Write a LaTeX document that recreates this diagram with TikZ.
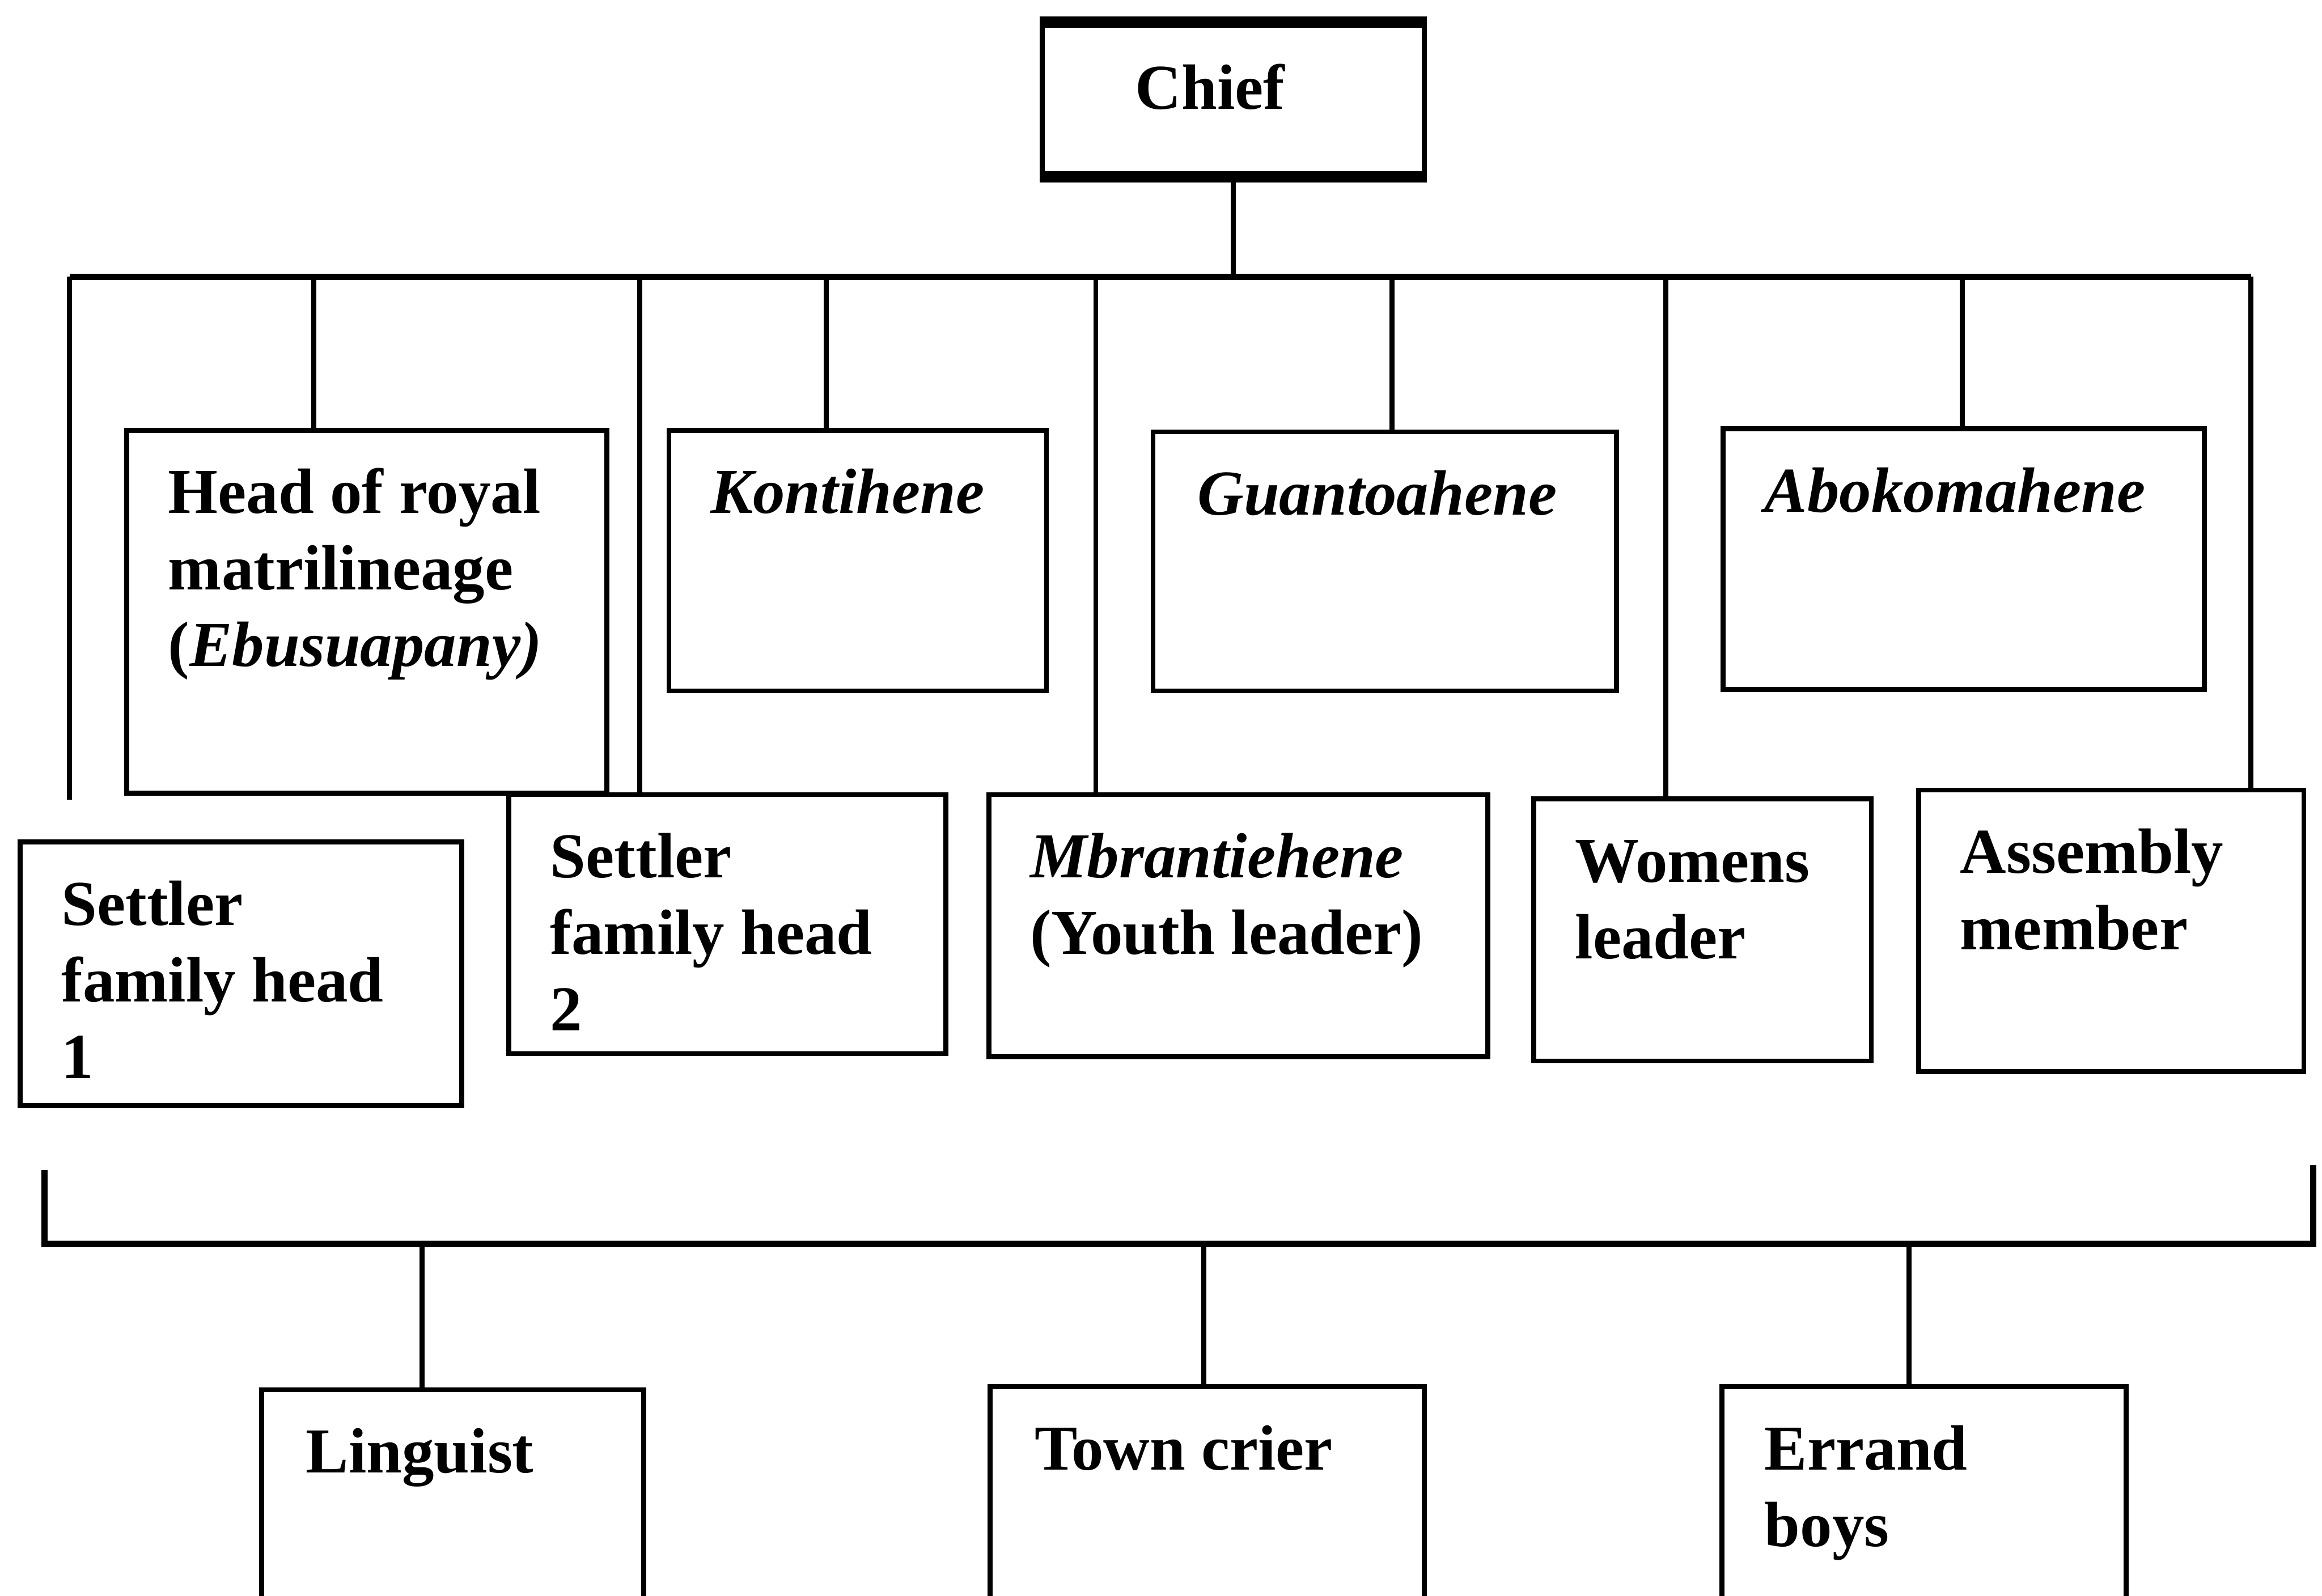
\documentclass[tikz,border=0pt]{standalone}
\usepackage{fontspec}
\setmainfont{Liberation Serif}
\usetikzlibrary{calc}
\begin{document}
\begin{tikzpicture}[
		line width=0.95pt,
		box/.style={draw, rectangle, anchor=north west, inner sep=0pt},
		lbl/.style={anchor=north west, align=left, inner sep=0pt, font=\fontsize{12.3}{14.7}\selectfont\bfseries},
		bus/.style={line width=1.2pt}
	]
		\clip (0,0) rectangle (15.68,-10.78);
		
		%Chief
		\node[box, minimum width=2.58cm, minimum height=1.01cm] (chief) at (7.02,-0.15) {};
		\node[lbl] (chieft) at ($(chief.north west)+(0.63,-0.21)$) {\strut Chief};
		\draw[line width=2.2pt] (chief.north west) -- (chief.north east);
		\draw[line width=2.2pt] (chief.south west) -- (chief.south east);
		
		%Upper row
		\node[box, minimum width=3.24cm, minimum height=2.45cm] (head) at (0.84,-2.89) {};
		\node[box, minimum width=2.55cm, minimum height=1.76cm] (kon) at (4.50,-2.89) {};
		\node[box, minimum width=3.13cm, minimum height=1.75cm] (guan) at (7.77,-2.90) {};
		\node[box, minimum width=3.25cm, minimum height=1.76cm] (abok) at (11.62,-2.88) {};
		\node[lbl] (headt) at ($(head.north west)+(0.28,-0.20)$) {\strut Head of royal\\matrilineage\\(\textit{Ebusuapany)}};
		\node[lbl] (kont) at ($(kon.north west)+(0.28,-0.20)$) {\strut\textit{Kontihene}};
		\node[lbl] (guant) at ($(guan.north west)+(0.30,-0.20)$) {\strut\textit{Guantoahene}};
		\node[lbl] (abokt) at ($(abok.north west)+(0.28,-0.20)$) {\strut\textit{Abokomahene}};
		
		%Lower row
		\node[box, minimum width=2.98cm, minimum height=1.78cm] (set1) at (0.12,-5.67) {};
		\node[box, minimum width=2.95cm, minimum height=1.75cm] (set2) at (3.42,-5.35) {};
		\node[box, minimum width=3.37cm, minimum height=1.77cm] (mbr) at (6.66,-5.35) {};
		\node[box, minimum width=2.28cm, minimum height=1.77cm] (wom) at (10.34,-5.38) {};
		\node[box, minimum width=2.60cm, minimum height=1.90cm] (asm) at (12.94,-5.32) {};
		\node[lbl] (set1t) at ($(set1.north west)+(0.28,-0.20)$) {\strut Settler\\family head\\1};
		\node[lbl] (set2t) at ($(set2.north west)+(0.28,-0.20)$) {\strut Settler\\family head\\2};
		\node[lbl] (mbrt) at ($(mbr.north west)+(0.28,-0.20)$) {\strut\textit{Mbrantiehene}\\(Youth leader)};
		\node[lbl] (womt) at ($(wom.north west)+(0.28,-0.20)$) {\strut Womens\\leader};
		\node[lbl] (asmt) at ($(asm.north west)+(0.28,-0.20)$) {\strut Assembly\\member};
		
		%Bus under the chief
		\coordinate (busL) at (0.47,-1.87);
		\coordinate (busR) at (15.20,-1.87);
		\coordinate (endL) at (0.47,-5.40);
		\draw[bus] (busL) -- (busR);
		\draw (chief.south) -- (chief.south |- busL);
		\draw (busL) -- (endL);
		\foreach \x/\n in {2.12/head, 5.58/kon, 9.40/guan, 13.25/abok, 4.32/set2, 7.40/mbr, 11.25/wom, 15.20/asm}{
			\coordinate (b\n) at (\x,-1.87);
			\draw (b\n) -- (b\n |- \n.north);
		}
		
		%Bottom row
		\node[box, minimum width=2.58cm, minimum height=2.2cm] (ling) at (1.75,-9.37) {};
		\node[box, minimum width=2.93cm, minimum height=2.2cm] (town) at (6.67,-9.35) {};
		\node[box, minimum width=2.73cm, minimum height=2.2cm] (err) at (11.61,-9.35) {};
		\node[lbl] (lingt) at ($(ling.north west)+(0.30,-0.20)$) {\strut Linguist};
		\node[lbl] (townt) at ($(town.north west)+(0.30,-0.20)$) {\strut Town crier};
		\node[lbl] (errt) at ($(err.north west)+(0.29,-0.20)$) {\strut Errand\\boys};
		
		%Bracket over the bottom row
		\coordinate (brL) at (0.30,-7.90);
		\coordinate (brR) at (15.62,-7.87);
		\draw[bus] (brL) -- ++(0,-0.50) -| (brR);
		\foreach \x/\n in {2.85/ling, 8.13/town, 12.89/err}{
			\coordinate (l\n) at (\x,-8.40);
			\draw (l\n) -- (l\n |- \n.north);
		}
		
	\end{tikzpicture}
\end{document}
